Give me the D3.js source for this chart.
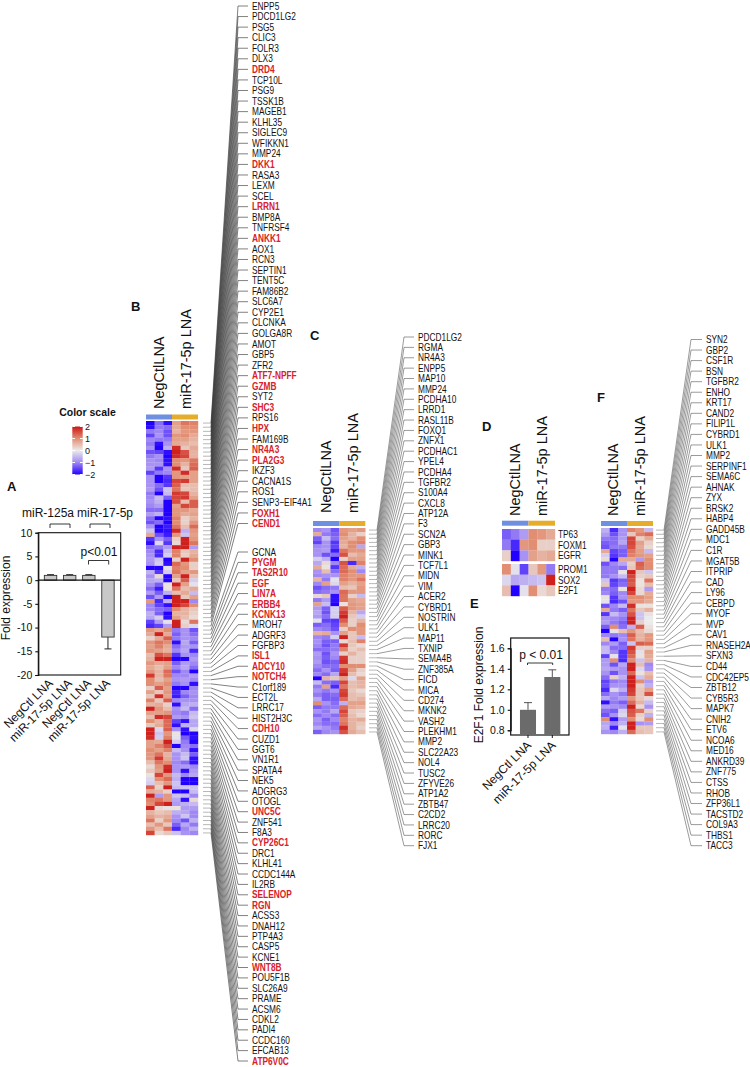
<!DOCTYPE html>
<html><head><meta charset="utf-8">
<script src="https://cdnjs.cloudflare.com/ajax/libs/d3/7.8.5/d3.min.js"></script>
<style>html,body{margin:0;padding:0;background:#fff}svg{display:block}text{font-family:"Liberation Sans",Arial,sans-serif;fill:#111}</style>
</head><body><svg id="c" width="750" height="1067"></svg>
<script>
const genesB=["ENPP5","PDCD1LG2","PSG5","CLIC3","FOLR3","DLX3","DRD4","TCP10L","PSG9","TSSK1B","MAGEB1","KLHL35","SIGLEC9","WFIKKN1","MMP24","DKK1","RASA3","LEXM","SCEL","LRRN1","BMP8A","TNFRSF4","ANKK1","AOX1","RCN3","SEPTIN1","TENT5C","FAM86B2","SLC6A7","CYP2E1","CLCNKA","GOLGA8R","AMOT","GBP5","ZFR2","ATF7-NPFF","GZMB","SYT2","SHC3","RPS16","HPX","FAM169B","NR4A3","PLA2G3","IKZF3","CACNA1S","ROS1","SENP3−EIF4A1","FOXH1","CEND1","GCNA","PYGM","TAS2R10","EGF","LIN7A","ERBB4","KCNK13","MROH7","ADGRF3","FGFBP3","ISL1","ADCY10","NOTCH4","C1orf189","ECT2L","LRRC17","HIST2H3C","CDH10","CUZD1","GGT6","VN1R1","SPATA4","NEK5","ADGRG3","OTOGL","UNC5C","ZNF541","F8A3","CYP26C1","DRC1","KLHL41","CCDC144A","IL2RB","SELENOP","RGN","ACSS3","DNAH12","PTP4A3","CASP5","KCNE1","WNT8B","POU5F1B","SLC26A9","PRAME","ACSM6","CDKL2","PADI4","CCDC160","EFCAB13","ATP6V0C"];
const redGenes=["DRD4","DKK1","LRRN1","ANKK1","ATF7-NPFF","GZMB","SHC3","HPX","NR4A3","PLA2G3","FOXH1","CEND1","PYGM","TAS2R10","EGF","LIN7A","ERBB4","KCNK13","ISL1","ADCY10","NOTCH4","CDH10","UNC5C","CYP26C1","SELENOP","RGN","WNT8B","ATP6V0C"];
const genesC=["PDCD1LG2","RGMA","NR4A3","ENPP5","MAP10","MMP24","PCDHA10","LRRD1","RASL11B","FOXQ1","ZNFX1","PCDHAC1","YPEL4","PCDHA4","TGFBR2","S100A4","CXCL8","ATP12A","F3","SCN2A","GBP3","MINK1","TCF7L1","MIDN","VIM","ACER2","CYBRD1","NOSTRIN","ULK1","MAP11","TXNIP","SEMA4B","ZNF385A","FICD","MICA","CD274","MKNK2","VASH2","PLEKHM1","MMP2","SLC22A23","NOL4","TUSC2","ZFYVE26","ATP1A2","ZBTB47","C2CD2","LRRC20","RORC","FJX1"];
const genesD1=["TP63","FOXM1","EGFR"];
const genesD2=["PROM1","SOX2","E2F1"];
const genesF=["SYN2","GBP2","CSF1R","BSN","TGFBR2","ENHO","KRT17","CAND2","FILIP1L","CYBRD1","ULK1","MMP2","SERPINF1","SEMA6C","AHNAK","ZYX","BRSK2","HABP4","GADD45B","MDC1","C1R","MGAT5B","ITPRIP","CAD","LY96","CEBPD","MYOF","MVP","CAV1","RNASEH2A","SFXN3","CD44","CDC42EP5","ZBTB12","CYB5R3","MAPK7","CNIH2","ETV6","NCOA6","MED16","ANKRD39","ZNF775","CTSS","RHOB","ZFP36L1","TACSTD2","COL9A3","THBS1","TACC3"];
const heatB=[
[-2,-1.2,-1.9,.8,1.2,1.1],[-1.9,-1.1,-1.2,.7,1,1],[-1.1,-1,-1.4,.6,.9,.9],[-1.5,-.9,-1.4,.9,1,.7],[-1,-1.1,-1.1,.8,.8,.6],
[-1.1,-1.9,-.9,.7,.6,.5],[-.9,-2,-.6,1.8,.4,.7],[-1.4,-1.5,-1.9,1.9,1.5,.6],[-1.1,-.9,-2,1.8,1.6,.6],[-.9,-1,-1.9,1,.9,1.2],
[-.9,-.9,-1.9,1,.6,1.3],[-.8,-1.6,-.9,1.8,.4,1.4],[-1.5,-1.1,-1,.9,1.8,.8],[-.9,-2,-1.6,.9,.8,.8],[-.9,-2,-1.7,1.6,1.7,.8],
[-.9,-1.2,-1.6,1.4,.5,.5],[-.8,-1.4,-.4,1.2,.4,.5],[-1.1,-2,-.5,1.7,1.6,.6],[-1,-.5,-1.3,1.6,1.7,.8],[-.9,-.6,-2,1.5,.5,1.4],
[-1,-.8,-2,.8,1.6,1.4],[-1.2,-1.2,-2,.9,.9,.7],[-.8,-.6,-2,.9,.7,.8],[-1.2,-2,-1.9,1.1,.3,.6],[-1.4,-1.2,-2,1,.3,.9],
[-.9,-2,-1.8,1.2,.5,1.3],[-.4,-2,-1.9,1.8,-.6,.9],[.7,-1.4,-1.8,.9,-.4,.8],[-1.6,-.9,-1.3,.3,1.9,.9],[-1.9,-.2,-1.6,.2,1.9,1.2],
[-1.2,-1.1,-.8,1.9,1.9,-.8],[-1,-1.7,-.5,1.1,.4,.6],[-.9,-1.7,-.3,1.1,.3,.7],[-.8,-.4,-2,.3,1.9,1],[-.9,-.3,-1.9,1.3,.9,.3],
[-2,-2,-.1,1.1,1,.3],[-.6,-1.6,-.3,1.2,.8,.9],[-.9,.2,-2,.8,1.9,.5],[-.7,-.6,-2,.4,1.4,-.3],[-.9,-1.3,.1,1.9,.8,-.1],
[-1.2,-1.8,.1,1.2,.5,.7],[-.8,-1.3,-.6,.5,.7,-.5],[-1.4,-.8,-2,1.9,.4,.8],[.9,-1.7,-.6,1.9,1.9,-1],[-1,-1.5,-1.9,1.9,1.6,1],
[-1,-1.2,-1.3,1,.6,.4],[-.6,-1.3,-2,.6,.6,.3],[-.7,-.3,-1.9,.8,.5,.2],[-1.5,-.8,-.1,1.9,.2,1.2],[-1.7,-1.5,-.8,1.9,.3,-.2],
[.9,.7,1,-1.1,-.9,-1.4],[.7,1.9,.7,-1.3,-.9,-1.2],[.3,.7,1.4,-1.1,-.9,-1],[.9,1.2,1,-1.9,-.7,-1.3],[.8,1.1,.7,-1.2,-.8,-.9],
[.9,.8,.6,-1,-.7,-1.7],[.5,1.5,1.2,-1.6,-.9,-1],[.6,1.9,1.9,-2,-2,-.8],[.9,.7,.8,-1.3,-.8,-1],[.7,.5,.8,-1,-.7,-1.2],
[.9,.6,1.3,-1.4,-1,-2],[1.7,.6,1.2,-1,-1,-.8],[1,.5,.8,-.9,-.8,-1],[1,.8,1,-1.1,-.9,-1.9],[.3,1.4,.8,-2,-2,-1],
[.8,.4,.9,-1.7,-1,-.9],[.4,1.8,.8,-1.8,-1.3,-1],[1.1,.4,1.4,-1,-.9,-.9],[.6,.7,.3,-1.9,-.7,-.6],[1.9,.9,.5,-.9,-.5,-1.2],
[.8,.8,.9,-1,-1.1,-.5],[.5,1.8,1.6,-.8,-.9,-.4],[1,.6,1.3,-1.5,-1.9,-.7],[.4,.7,1.3,-1.9,-.6,-.7],[1.9,-.2,1.4,-.9,-1.9,-.2],
[1.9,-.4,.9,.1,-2,-2],[1.8,-.3,1.1,-.1,-1.3,-1.9],[.8,.7,1.9,-.3,-1.1,-2],[.8,1.1,1.5,-2,-1,-1.2],[1,.8,1.1,-.5,-.9,-1.9],
[.9,1.2,.6,-.9,-.5,-1.3],[.9,1.7,.7,-.9,-.4,-1.9],[.5,1.2,1,-1,-1.2,-1.9],[.2,.9,1.8,-.9,-.8,-1],[.4,.8,1.9,-.9,-1.9,-.8],
[.1,1.6,.9,-.5,-1,-.7],[-.2,1,1.3,-.6,-2,-2],[-.3,.5,.9,-.4,-2,-2],[1.4,.3,1.9,-.5,-.4,-.4],[.7,.6,.3,-2,-2,-.5],
[1.9,-.8,.9,-.4,-.5,-1],[1.1,1.2,.9,-.7,-1.9,.2],[1,1.6,1.9,-.8,-.6,-.5],[1.9,.2,.1,.1,-.8,-.8],[.6,.4,.5,-.6,-.7,-1],
[.8,.6,.7,-.9,-.4,-1],[1.2,.3,.9,-1,-1.4,-.6],[.5,.9,.4,-1.3,-.7,-1.1],[.9,.5,1.2,-1.7,-1,-.6],[1.6,.2,.4,-.4,-.9,-1]
];
const heatC=[
[-1,-.9,-1.4,.9,.8,.9],[.7,-1.1,-1.3,1,.6,.3],[-1.3,-.5,-1.2,.8,.6,1],[-1.5,-.9,-1.6,.7,1,1.1],[-1,-.9,-1.5,.6,1,-.7],
[-.9,-.8,-1.8,1.2,.9,.9],[-.9,-1.4,-1.2,1.5,.5,.7],[-.3,-.6,-2,.3,.8,.8],[-.7,.2,-1,1.5,-1.7,1.1],[.7,.1,-1.6,1.3,.7,-.6],
[-.9,.5,-1.2,1.3,1,-1],[-1,-.9,-.9,1.1,.9,.9],[.6,-1.1,-.1,1.1,.9,1.2],[-1,.8,-.2,.8,.6,.8],[-1.4,-1.2,-1.1,.5,.4,.9],
[-1.2,-1.1,-.9,1.3,.9,.9],[.2,.4,-1.9,1.2,.3,-.5],[-1.1,-.8,-1.9,1.2,.8,.7],[.8,-.5,-2,.1,.9,.8],[-.8,-1.3,-.3,1.4,.9,.8],
[-.7,-1.4,-.3,1.7,.6,-.7],[-.8,-1.2,-.3,1.9,.4,-.3],[-.1,-1.5,-1.6,1.4,.3,.6],[-1.3,-1.2,-1.5,1,.3,1],[-1,-1.1,-1.4,.3,1,.9],
[.6,.7,-.9,.8,.4,.9],[-1,-1.1,-.3,1.9,.4,-.5],[-.9,-1.3,-1.3,.2,.5,1.1],[-1,-1.4,-1.1,1.7,.4,.2],[-1.2,-1.2,-1.1,1.1,.3,.5],
[-.8,-1.4,-.9,.3,.6,.3],[-.9,-1.3,-1,1.7,.3,.3],[-.8,-1.4,-1.3,1.8,.3,.3],[-1,-1.2,-1.2,1,1,1],[-1.2,-.9,-1.3,1.7,.8,.3],
[-1,-1.2,-.7,1.9,.5,.2],[-2,.6,.4,.8,-.2,.8],[-.5,-1.2,-1.3,1.6,.5,.6],[-1.1,.8,-1.7,1.2,.5,.6],[-.9,-1.1,-.9,1.6,.4,.2],
[-1.1,-1.3,-1.2,1.7,.5,.4],[-.7,-1.3,-1.3,1.3,.5,.6],[1,-.9,-1.2,-.6,.8,.8],[-1.3,-1.1,-1.1,1.3,.7,.6],[-.9,-1.1,-.7,1.6,.4,.3],
[-1.2,-1,-1.2,1.4,.5,.2],[-.9,-1.3,-1,1.1,.6,.7],[-1,-1.2,-1.2,1.2,.6,.4],[-.7,-.9,-1.1,1.8,.6,.3],[-1.3,-1,-.9,1.5,.7,.5]
];
const heatD=[
[-1.3,-1.1,-.8,1,.9,.7],[-1.1,-1.7,.9,1,.3,.3],[.3,-2,-.9,.8,.6,.7],
[1,-.1,-1.5,.4,.9,-1.1],[-.2,-.7,-.6,-.5,-.4,1.9],[.5,-2,-.1,1,.2,.4]
];
const heatF=[
[-.6,-1.7,-.9,1.1,.9,-.5],[-.8,-1.4,-.9,.4,1.1,1.3],[-1.1,-1.2,-.8,1.6,.3,.7],[-1.3,-1.2,-.7,1.6,.8,.3],[-1.4,-1.1,-1.1,1.5,.7,.2],
[.7,-1.5,-1.3,1.2,.8,-.5],[-.3,-1.6,-1.3,1.1,.9,.8],[.2,-2,.7,.7,-.8,1],[-1.4,-1,-.7,.3,1.4,1],[-1.1,-1.1,-1.2,.4,1.3,1],
[-1.1,-1.1,.1,1.9,.4,-.4],[-1.1,-.9,-.5,1.6,.3,.4],[-.4,-1.6,-1.3,1.5,.1,1.2],[.4,-1.5,-1.2,1.4,.1,.5],[-1.1,-1.2,.1,1.9,.2,-.8],
[-1,-1.3,-1,1.6,.2,.7],[.1,-1.6,-.9,1,1,.8],[-.1,-1.7,-1.4,.9,.9,.7],[-1.4,-1,-.5,1.8,.1,.1],[.7,-1.1,-1.3,1.2,.4,.6],
[-1.6,-.5,-.9,1.5,-.4,.1],[-.9,-1,-1.1,1.9,-.4,0],[-.8,-1.1,-1.3,1.9,.3,0],[-1.3,1,-1.2,-.6,1.4,.1],[-2,-.1,.5,.9,.5,.2],
[-1,-1.1,-1,1.4,.6,.9],[.5,-2,-.9,1.2,.6,.9],[-1,-.8,-1.3,-.4,1.4,1.3],[-.5,-1.2,-1.2,1.7,.3,.3],[-.5,-1,-1.6,1.5,-.1,.8],
[-1.5,-.1,-1.6,1.3,.1,.7],[-.8,1,-1.7,1,-.4,.6],[-.8,-1.4,-.7,1.9,.5,-1],[-.7,-.8,-.9,1.9,-.2,-.9],[-.9,-1.4,-.9,1.3,.1,.5],
[-1.2,.3,-.6,1.9,-.4,.7],[-1.5,-1.1,-1,1.9,1,-.8],[-1.4,-.9,-.9,1.9,.3,-.6],[-1.7,-.2,-.6,1.7,.4,.8],[-1.2,-.9,-1.1,1.6,.4,1.5],
[-.7,-1,-.8,.9,.4,.2],[-1.9,-1.1,-1.3,1.3,.6,-.5],[-.8,-.9,-1,1.9,.2,-.9],[-1.2,-1.3,-.3,1.5,1.2,.3],[-1.4,-.9,-.2,1.4,.3,-.6],
[1,-1.9,-.8,1,.2,1],[-.7,-1,-.6,1.9,-.9,-.8],[-.6,-1.8,-.1,1.9,.4,.4],[-.9,-1,-.6,1.3,.5,.4]
];
const colorStops=[-2,-1,0,1,2];
const colorRange=["#2200ff","#a088f4","#ebebeb","#e28e72","#cc1515"];
const barLabels=["NegCtl LNA","miR-17-5p LNA"];
const barsA=[1,1,1,-12];
const barsAErr=[1.15,1.15,1.15,-14.5];
const barsAIds=["a","b","c","d"];
const ticksA=[10,5,0,-5,-10,-15,-20];
const barsE=[1,1.32];
const barsEErr=[1.07,1.39];
const ticksE=[1.6,1.4,1.2,1,.8];
const scaleTicks=[2,1,0,-1,-2];

const svg=d3.select("#c");
const color=d3.scaleLinear().domain(colorStops).range(colorRange).clamp(true);
const H1="#6f8fe0",H2="#e5ad2a";

function header(x0,x1,yTop,xa,xb,base){
  const m=(x0+x1)/2;
  svg.append("rect").attr("x",x0).attr("y",yTop).attr("width",m-x0).attr("height",5).attr("fill",H1);
  svg.append("rect").attr("x",m).attr("y",yTop).attr("width",x1-m).attr("height",5).attr("fill",H2);
  [["NegCtlLNA",xa],["miR-17-5p LNA",xb]].forEach(([t,x])=>{
    svg.append("text").attr("transform",`translate(${x},${base}) rotate(-90)`).attr("font-size",14.5).text(t);
  });
}
function cells(rows,x,y,names){
  const g=svg.append("g");
  rows.forEach((r,i)=>r.forEach((v,j)=>{
    g.append("rect").attr("x",x(j)).attr("y",y(names[i])).attr("width",x.bandwidth()+.2).attr("height",y.bandwidth()+.2).attr("fill",color(v));
  }));
}
function gene(g,t,x,y,red){
  return g.append("text").attr("transform",`translate(${x},${y}) scale(.8,1)`).attr("font-size",10.4)
    .style("font-weight",red?"bold":"normal").style("fill",red?"#d8202a":"#111").text(t);
}
function fan(names,yRow,yLab,tick0,tick1,fanEnd,segEnd,labX,ink,w){
  const g=svg.append("g"),line=d3.line();
  names.forEach(n=>{
    const ry=yRow(n)+yRow.bandwidth()/2,ly=yLab(n);
    g.append("path").attr("d",line([[tick0,ry],[tick1,ry]])).attr("fill","none").attr("stroke","#999").attr("stroke-width",.7);
    g.append("path").attr("d",line([[tick1,ry],[fanEnd,ly],[segEnd,ly]])).attr("fill","none").attr("stroke",ink).attr("stroke-width",w);
    gene(g,n,labX,ly+3.6,names===genesB&&redGenes.includes(n));
  });
}
const cols=d3.range(6);
// B
const xB=d3.scaleBand().domain(cols).range([146,198]);
const yB=d3.scaleBand().domain(genesB).range([421,835]);
cells(heatB,xB,yB,genesB);
const yLabB1=d3.scalePoint().domain(genesB.slice(0,50)).range([6,523.5]);
const yLabB2=d3.scalePoint().domain(genesB.slice(50)).range([552,1061]);
fan(genesB,yB,n=>genesB.indexOf(n)<50?yLabB1(n):yLabB2(n),203,211,238,248,252,"#333",.62);
header(146,198,414.5,164,191,409);
// C
const xC=d3.scaleBand().domain(cols).range([313,365.3]);
const yC=d3.scaleBand().domain(genesC).range([528,734]);
cells(heatC,xC,yC,genesC);
const yLabC=d3.scalePoint().domain(genesC).range([337,845.7]);
fan(genesC,yC,yLabC,369,377,404,414,418,"#555",.6);
header(313,365.3,521,331,358,513);
// D
const xD=d3.scaleBand().domain(cols).range([502,555]);
const yD1=d3.scaleBand().domain(genesD1).range([529,561]);
const yD2=d3.scaleBand().domain(genesD2).range([564,596]);
cells(heatD.slice(0,3),xD,yD1,genesD1);
cells(heatD.slice(3),xD,yD2,genesD2);
[[genesD1,yD1],[genesD2,yD2]].forEach(([names,s])=>names.forEach(n=>{
  gene(svg,n,558,s(n)+s.bandwidth()/2+3.6,false);
}));
header(502,555,520.7,520,547,516);
// F
const xF=d3.scaleBand().domain(cols).range([601,653]);
const yF=d3.scaleBand().domain(genesF).range([528,734]);
cells(heatF,xF,yF,genesF);
const yLabF=d3.scalePoint().domain(genesF).range([339.5,845.7]);
fan(genesF,yF,yLabF,656,664,691,702,706,"#555",.6);
header(601,653,521,618,645,516);
// color scale
const yS=d3.scaleLinear().domain([-2,2]).range([474.5,426.5]);
const defs=svg.append("defs");
const lg=defs.append("linearGradient").attr("id","cs").attr("x1",0).attr("x2",0).attr("y1",1).attr("y2",0);
colorStops.forEach(v=>lg.append("stop").attr("offset",(v+2)/4).attr("stop-color",color(v)));
svg.append("rect").attr("x",72.3).attr("y",yS(2)).attr("width",10.4).attr("height",yS(-2)-yS(2)).attr("fill","url(#cs)");
scaleTicks.forEach(v=>{
  svg.append("path").attr("d",d3.line()([[72.3,yS(v)],[75,yS(v)]])).attr("stroke","#fff").attr("stroke-width",1);
  svg.append("path").attr("d",d3.line()([[80,yS(v)],[82.7,yS(v)]])).attr("stroke","#fff").attr("stroke-width",1);
  svg.append("text").attr("x",85).attr("y",yS(v)+3.3).attr("font-size",9).text(v<0?"−"+(-v):v);
});
svg.append("text").attr("x",87.5).attr("y",416).attr("text-anchor","middle").attr("font-size",10.5).attr("font-weight","bold").text("Color scale");
// panel letters
[["A",7,491],["B",131,311],["C",310,340],["D",482,431],["E",470,608],["F",597,402]].forEach(([t,x,y])=>{
  svg.append("text").attr("x",x).attr("y",y).attr("font-size",13).attr("font-weight","bold").text(t);
});
function axisStyle(g){g.selectAll("path,line").attr("stroke","#111").attr("stroke-width",1.1);g.selectAll("text").attr("font-size",10.5).style("fill","#111");}
// A
const yA=d3.scaleLinear().domain([-20,10]).range([675,532.7]);
const xA=d3.scaleBand().domain(barsAIds).range([37.6,120.9]).padding(.352);
svg.append("rect").attr("x",38.3).attr("y",yA(10)).attr("width",82.4).attr("height",yA(-20)-yA(10)).attr("fill","none").attr("stroke","#111").attr("stroke-width",1.1);
svg.append("g").attr("transform","translate(38.3,0)").call(d3.axisLeft(yA).tickValues(ticksA).tickSize(3).tickFormat(d=>String(d))).call(axisStyle);
barsAIds.forEach((id,i)=>{
  const v=barsA[i],e=barsAErr[i],cx=xA(id)+xA.bandwidth()/2;
  svg.append("path").attr("d",d3.line()([[cx,yA(v)],[cx,yA(e)]])).attr("stroke","#222");
  svg.append("path").attr("d",d3.line()([[cx-3.5,yA(e)],[cx+3.5,yA(e)]])).attr("stroke","#222");
  svg.append("rect").attr("x",xA(id)).attr("y",yA(Math.max(v,0))).attr("width",xA.bandwidth()).attr("height",Math.abs(yA(v)-yA(0))).attr("fill","#c8c8c8").attr("stroke","#333").attr("stroke-width",.9);
  const t=barLabels[i%2];
  svg.append("text").attr("transform",`translate(${cx+3},684) rotate(-45)`).attr("text-anchor","end").attr("font-size",12).text(t);
});
svg.append("path").attr("d",d3.line()([[38.3,yA(0)],[120.7,yA(0)]])).attr("stroke","#111").attr("stroke-width",1.1);
svg.append("text").attr("transform","translate(10,598) rotate(-90)").attr("text-anchor","middle").attr("font-size",12).text("Fold expression");
function bracket(x0,x1,y,d){svg.append("path").attr("d",d3.line()([[x0,y+d],[x0,y],[x1,y],[x1,y+d]])).attr("fill","none").attr("stroke","#222").attr("stroke-width",.9);}
svg.append("text").attr("x",48).attr("y",517).attr("text-anchor","middle").attr("font-size",12).text("miR-125a");
svg.append("text").attr("x",105).attr("y",517).attr("text-anchor","middle").attr("font-size",12).text("miR-17-5p");
bracket(50,70,524,4);bracket(90,110,524,4);bracket(88.5,108.7,560.5,4);
svg.append("text").attr("x",99).attr("y",556).attr("text-anchor","middle").attr("font-size",12).text("p<0.01");
// E
const yE=d3.scaleLinear().domain([.8,1.6]).range([730.3,648.3]);
const xE=d3.scaleBand().domain(barLabels).range([511.7,568.6]).padding(.34);
svg.append("rect").attr("x",510.7).attr("y",638).attr("width",58.3).attr("height",97).attr("fill","none").attr("stroke","#111").attr("stroke-width",1.2);
svg.append("g").attr("transform","translate(510.7,0)").call(d3.axisLeft(yE).tickValues(ticksE).tickSize(3).tickFormat(d3.format(".1f"))).call(axisStyle);
barLabels.forEach((t,i)=>{
  const cx=xE(t)+xE.bandwidth()/2;
  svg.append("path").attr("d",d3.line()([[cx,yE(barsE[i])],[cx,yE(barsEErr[i])]])).attr("stroke","#555");
  svg.append("path").attr("d",d3.line()([[cx-4,yE(barsEErr[i])],[cx+4,yE(barsEErr[i])]])).attr("stroke","#555");
  svg.append("rect").attr("x",xE(t)).attr("y",yE(barsE[i])).attr("width",xE.bandwidth()).attr("height",735-yE(barsE[i])).attr("fill","#6b6b6b");
  svg.append("path").attr("d",d3.line()([[cx,735],[cx,738]])).attr("stroke","#111");
  svg.append("text").attr("transform",`translate(${cx+4},746) rotate(-45)`).attr("text-anchor","end").attr("font-size",12).text(t);
});
svg.append("text").attr("transform","translate(483,685) rotate(-90)").attr("text-anchor","middle").attr("font-size",12).text("E2F1 Fold expression");
bracket(527.5,552.7,663,2);
svg.append("text").attr("x",541).attr("y",659).attr("text-anchor","middle").attr("font-size",12).text("p < 0.01");
</script></body></html>
